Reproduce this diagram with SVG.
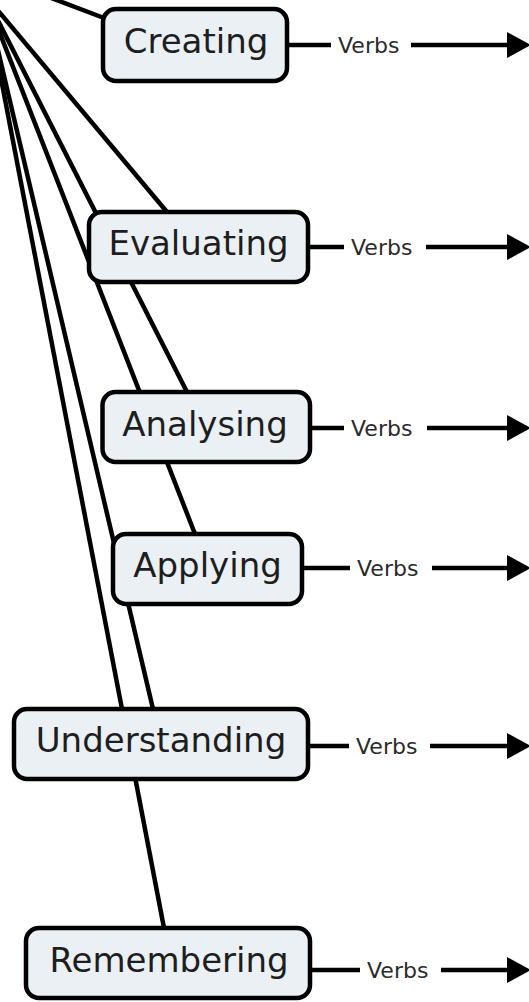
<svg xmlns="http://www.w3.org/2000/svg" width="529" height="1002" viewBox="0 0 529 1002">
<style>
.box{fill:#eaf0f3;stroke:#000;stroke-width:4.5}
.lbl{font-family:"DejaVu Sans",Verdana,sans-serif;font-size:34px;fill:#1e1e1e;text-anchor:middle}
.edge{stroke:#000;stroke-width:4.5;fill:none}
.verb{font-family:"DejaVu Sans",Verdana,sans-serif;font-size:22px;fill:#2a2a2a}
</style>
<defs>
<marker id="arrow" viewBox="0 0 24 26" refX="0" refY="13" markerWidth="24" markerHeight="26" markerUnits="userSpaceOnUse" orient="auto">
<path d="M0,0 L24,13 L0,26 Z" fill="#000"/>
</marker>
</defs>
<g id="connectors">
<line class="edge" x1="-20" y1="-29" x2="104" y2="18"/>
<line class="edge" x1="-15" y1="-5" x2="167" y2="212"/>
<line class="edge" x1="-15" y1="-5" x2="187" y2="392"/>
<line class="edge" x1="-15" y1="-5" x2="195" y2="534"/>
<line class="edge" x1="-15" y1="-5" x2="153" y2="709"/>
<line class="edge" x1="-15" y1="-5" x2="164" y2="928"/>

<line class="edge" x1="287" y1="45" x2="331" y2="45"/>
<text class="verb" x="338" y="53">Verbs</text>
<line class="edge" x1="411" y1="45" x2="507" y2="45" marker-end="url(#arrow)"/>

<line class="edge" x1="308" y1="247" x2="344" y2="247"/>
<text class="verb" x="351" y="255">Verbs</text>
<line class="edge" x1="426" y1="247" x2="507" y2="247" marker-end="url(#arrow)"/>

<line class="edge" x1="310" y1="428" x2="344" y2="428"/>
<text class="verb" x="351" y="436">Verbs</text>
<line class="edge" x1="427" y1="428" x2="507" y2="428" marker-end="url(#arrow)"/>

<line class="edge" x1="302" y1="568" x2="350" y2="568"/>
<text class="verb" x="357" y="576">Verbs</text>
<line class="edge" x1="432" y1="568" x2="507" y2="568" marker-end="url(#arrow)"/>

<line class="edge" x1="308" y1="746" x2="349" y2="746"/>
<text class="verb" x="356" y="754">Verbs</text>
<line class="edge" x1="430" y1="746" x2="507" y2="746" marker-end="url(#arrow)"/>

<line class="edge" x1="310" y1="970" x2="360" y2="970"/>
<text class="verb" x="367" y="978">Verbs</text>
<line class="edge" x1="441" y1="970" x2="507" y2="970" marker-end="url(#arrow)"/>
</g>
<g id="creating">
<rect class="box" x="103" y="9" width="184" height="72" rx="13"/>
<text class="lbl" x="196" y="53">Creating</text>
</g>
<g id="evaluating">
<rect class="box" x="89" y="212" width="219" height="70" rx="13"/>
<text class="lbl" x="198.5" y="255">Evaluating</text>
</g>
<g id="analysing">
<rect class="box" x="102.5" y="392" width="207.5" height="70" rx="13"/>
<text class="lbl" x="205" y="436">Analysing</text>
</g>
<g id="applying">
<rect class="box" x="113" y="534" width="189" height="70" rx="13"/>
<text class="lbl" x="207.5" y="577">Applying</text>
</g>
<g id="understanding">
<rect class="box" x="14" y="709" width="294" height="70" rx="13"/>
<text class="lbl" x="161" y="752">Understanding</text>
</g>
<g id="remembering">
<rect class="box" x="26" y="928" width="284" height="70" rx="13"/>
<text class="lbl" x="169" y="972">Remembering</text>
</g>
</svg>
